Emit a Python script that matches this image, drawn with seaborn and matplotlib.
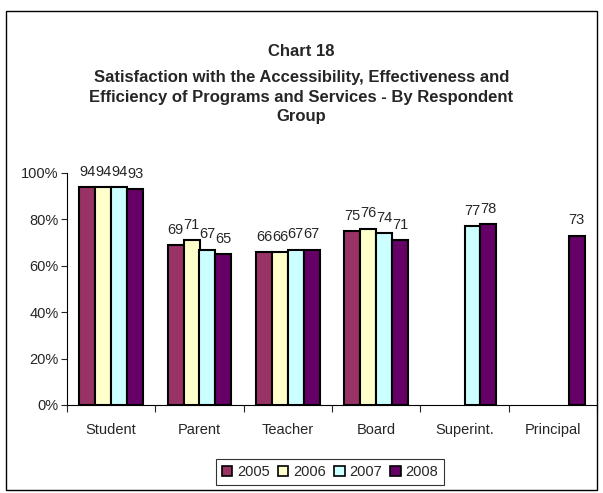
import numpy as np
import pandas as pd
import matplotlib
matplotlib.use("Agg")
import matplotlib.pyplot as plt
import seaborn as sns
from matplotlib.patches import Rectangle
from matplotlib.ticker import FuncFormatter, FixedLocator

groups = ["Student", "Parent", "Teacher", "Board", "Superint.", "Principal"]
years = ["2005", "2006", "2007", "2008"]
v2005 = [94, 69, 66, 75, np.nan, np.nan]
v2006 = [94, 71, 66, 76, np.nan, np.nan]
v2007 = [94, 67, 67, 74, 77, np.nan]
v2008 = [93, 65, 67, 71, 78, 73]
colors = ["#993366", "#FFFFCC", "#CCFFFF", "#660066"]

rows = []
for yr, vals in zip(years, [v2005, v2006, v2007, v2008]):
    for g, v in zip(groups, vals):
        if not np.isnan(v):
            rows.append({"group": g, "year": yr, "value": v})
df = pd.DataFrame(rows)

sns.set_style("white")
plt.rcParams["font.family"] = ["Liberation Sans", "DejaVu Sans"]

fig = plt.figure(figsize=(6.03, 4.93), dpi=100)
ax = fig.add_axes([67 / 603, 1 - 405 / 493, 530 / 603, 232 / 493])

sns.barplot(data=df, x="group", y="value", hue="year", order=groups,
            hue_order=years, palette=colors, saturation=1,
            edgecolor="black", linewidth=1.5, width=0.72, ax=ax)

for cont in ax.containers:
    ax.bar_label(cont, fmt="%d", padding=6, fontsize=10.5)

ax.set_ylim(0, 100)
ax.set_xlim(-0.5, len(groups) - 0.5)
ax.yaxis.set_major_locator(FixedLocator([0, 20, 40, 60, 80, 100]))
ax.yaxis.set_major_formatter(FuncFormatter(lambda v, p: f"{v:.0f}%"))
ax.set_xlabel("")
ax.set_ylabel("")
ax.tick_params(axis="y", which="major", direction="out", length=4,
               width=0.8, labelsize=10.5, left=True, pad=2)
ax.tick_params(axis="x", which="major", length=0, labelsize=10.5, pad=13)
ax.set_xticks(np.arange(-0.5, len(groups), 1.0), minor=True)
ax.tick_params(axis="x", which="minor", direction="out", length=5,
               width=0.8, bottom=True)
sns.despine(ax=ax)
for s in ["left", "bottom"]:
    ax.spines[s].set_color("black")
    ax.spines[s].set_linewidth(0.8)

leg = ax.legend(loc="center", bbox_to_anchor=(330 / 603, 1 - 472 / 493),
                bbox_transform=fig.transFigure, ncol=4, frameon=True,
                fancybox=False, edgecolor="black", fontsize=10.5,
                handlelength=0.7, handleheight=0.7, handletextpad=0.3,
                columnspacing=0.6, borderpad=0.4)
leg.get_frame().set_linewidth(0.8)
for h in leg.legend_handles:
    h.set_edgecolor("black")
    h.set_linewidth(1.2)

fig.text(0.5, 1 - 52 / 493, "Chart 18", ha="center", va="center",
         fontsize=12, fontweight="bold")
fig.text(0.5, 1 - 97 / 493,
         "Satisfaction with the Accessibility, Effectiveness and\n"
         "Efficiency of Programs and Services - By Respondent\nGroup",
         ha="center", va="center", fontsize=12, fontweight="bold",
         linespacing=1.4)

fig.patches.append(Rectangle((6 / 603, 3 / 493), 591 / 603, 479 / 493,
                             transform=fig.transFigure, fill=False,
                             edgecolor="black", linewidth=1.0))

fig.savefig("out.png", dpi=100)
